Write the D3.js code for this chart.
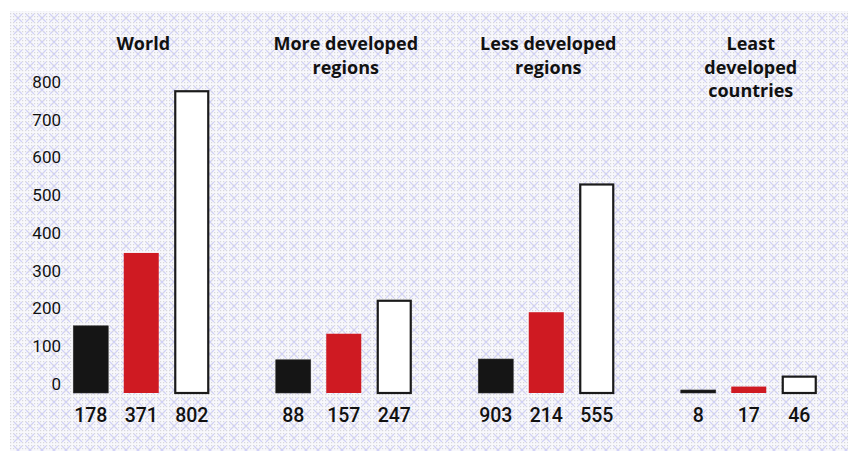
<!DOCTYPE html>
<html>
<head>
<meta charset="utf-8">
<script src="https://cdn.jsdelivr.net/npm/d3@7"></script>
<style>
  html, body { margin: 0; padding: 0; background: #ffffff; }
  svg { display: block; }
</style>
</head>
<body>
<svg id="chart" width="848" height="453"></svg>
<script>
// ---- data ----
const groups = ["World", "More developed regions", "Less developed regions", "Least developed countries"];
const groupTitleLines = [
  ["World"],
  ["More developed", "regions"],
  ["Less developed", "regions"],
  ["Least", "developed", "countries"]
];
const seriesKeys = ["s1", "s2", "s3"];
const seriesColors = ["#151515", "#cf1a22", "#ffffff"];
const values = [
  [178, 371, 802],
  [88, 157, 247],
  [90, 214, 555],
  [8, 17, 46]
];
const valueLabels = [
  ["178", "371", "802"],
  ["88", "157", "247"],
  ["903", "214", "555"],
  ["8", "17", "46"]
];
const yTicks = [0, 100, 200, 300, 400, 500, 600, 700, 800];

// ---- drawing ----
const svg = d3.select("#chart");
const defs = svg.append("defs");
const pat = defs.append("pattern")
  .attr("id", "bgpat").attr("patternUnits", "userSpaceOnUse")
  .attr("width", 12).attr("height", 12);
pat.append("rect").attr("width", 12).attr("height", 12).attr("fill", "#f8f8fc");
// lavender crosses
pat.append("path").attr("d", "M2,2 L10,10 M10,2 L2,10")
  .attr("stroke", "#d0d0f7").attr("stroke-width", 1.1).attr("fill", "none");
// grey dots
for (let i = 0; i < 4; i++) {
  for (let j = 0; j < 4; j++) {
    pat.append("rect").attr("x", i * 3 + 1).attr("y", j * 3 + 1)
      .attr("width", 1.2).attr("height", 1.2).attr("fill", "#d8d8db");
  }
}
svg.append("rect").attr("x", 10).attr("y", 11).attr("width", 838).attr("height", 440)
  .attr("fill", "url(#bgpat)");

const y = d3.scaleLinear().domain([0, 800]).range([393, 91]);
const x0 = d3.scaleBand().domain(groups).range([40, 850]).paddingInner(0).paddingOuter(0);
const x1 = d3.scaleBand().domain(seriesKeys).range([-68, 68]).paddingInner(0.307).paddingOuter(0);

// y tick labels
const yAxis = d3.axisLeft(y).tickValues(yTicks).tickSize(0).tickPadding(0);
const gy = svg.append("g").attr("transform", "translate(61,-9)").call(yAxis);
gy.select(".domain").remove();
gy.selectAll("text")
  .attr("font-family", "Roboto, 'Open Sans', sans-serif")
  .attr("font-size", 17)
  .attr("fill", "#111");

// groups
const g = svg.selectAll("g.grp").data(groups).enter().append("g")
  .attr("class", "grp")
  .attr("transform", d => `translate(${x0(d) + x0.bandwidth() / 2},0)`);

// titles
g.each(function (d, gi) {
  const t = d3.select(this).append("text")
    .attr("text-anchor", "middle")
    .attr("font-family", "'Open Sans', sans-serif")
    .attr("font-weight", 700)
    .attr("font-size", 18)
    .attr("fill", "#111");
  groupTitleLines[gi].forEach((line, li) => {
    t.append("tspan").attr("x", 2).attr("y", 50 + li * 23.5).text(line);
  });
});

// bars
g.each(function (d, gi) {
  const sel = d3.select(this);
  seriesKeys.forEach((k, si) => {
    const v = values[gi][si];
    const isWhite = si === 2;
    sel.append("rect")
      .attr("x", x1(k) + (isWhite ? 1 : 0))
      .attr("y", y(v) + (isWhite ? 1 : 0))
      .attr("width", x1.bandwidth() - (isWhite ? 2 : 0))
      .attr("height", Math.max(y(0) - y(v) - (isWhite ? 1 : 0), 1))
      .attr("fill", seriesColors[si])
      .attr("stroke", isWhite ? "#1a1a1a" : (si === 0 ? "#333" : "none"))
      .attr("stroke-width", isWhite ? 2.2 : 0.6);
    sel.append("text")
      .attr("x", x1(k) + x1.bandwidth() / 2)
      .attr("y", 422)
      .attr("text-anchor", "middle")
      .attr("font-family", "Roboto, 'Open Sans', sans-serif")
      .attr("font-weight", 500)
      .attr("font-size", 19.5)
      .attr("fill", "#111")
      .text(valueLabels[gi][si]);
  });
});
</script>
</body>
</html>
